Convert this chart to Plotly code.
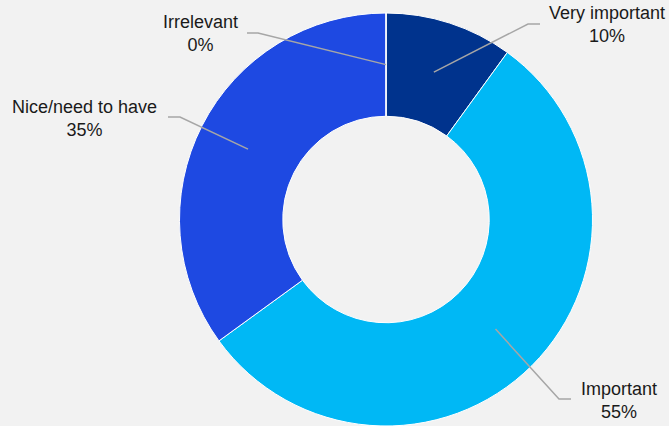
import math
import plotly.graph_objects as go

# Survey answers: how important is the topic
categories = ["Very important", "Important", "Nice/need to have", "Irrelevant"]
shares = [10, 55, 35, 0]
colors = ["#00338D", "#00B8F5", "#1E49E2", "#7F7F7F"]

W, H = 669, 426
CX, CY = 386, 219.5          # donut centre in pixels (from top-left)
R_OUT = 206.5
HOLE = 0.5

# callout layout: (elbow, line end, label centre) in pixels
callouts = {
    "Very important": ((528, 24), (540, 24), (607, 25)),
    "Important": ((559, 399), (571, 399), (619, 400)),
    "Nice/need to have": ((180, 117), (168, 117), (84, 118)),
    "Irrelevant": ((258, 33), (247, 33), (200, 33)),
}


def px(x):
    return x / W


def py(y):
    return 1 - y / H


fig = go.Figure(
    go.Pie(
        labels=categories,
        values=shares,
        hole=HOLE,
        sort=False,
        direction="clockwise",
        rotation=0,
        marker=dict(colors=colors, line=dict(color="white", width=1)),
        textinfo="none",
        hoverinfo="label+percent",
        showlegend=False,
        domain=dict(
            x=[px(CX - R_OUT), px(CX + R_OUT)],
            y=[0, py(CY - R_OUT)],
        ),
    )
)

shapes = []
annotations = []
total = sum(shares)
cum = 0
r_mid = R_OUT * (1 + HOLE) / 2
for cat, val in zip(categories, shares):
    mid = (cum + val / 2) / total * 2 * math.pi
    cum += val
    sx = CX + r_mid * math.sin(mid)
    sy = CY - r_mid * math.cos(mid)
    (ex, ey), (tx, ty), (lx, ly) = callouts[cat]
    shapes.append(
        dict(
            type="path",
            xref="paper",
            yref="paper",
            path=f"M {px(sx)},{py(sy)} L {px(ex)},{py(ey)} L {px(tx)},{py(ty)}",
            line=dict(color="#A6A6A6", width=1.5),
        )
    )
    annotations.append(
        dict(
            x=px(lx),
            y=py(ly),
            xref="paper",
            yref="paper",
            text=f"{cat}<br>{round(val / total * 100)}%",
            showarrow=False,
            xanchor="center",
            yanchor="middle",
            align="center",
            font=dict(family="Liberation Sans, Arial, sans-serif", size=18, color="#1A1A1A"),
        )
    )

fig.update_layout(
    width=W,
    height=H,
    margin=dict(l=0, r=0, t=0, b=0),
    paper_bgcolor="#F2F2F2",
    plot_bgcolor="#F2F2F2",
    shapes=shapes,
    annotations=annotations,
)

fig.write_html("out.html")
